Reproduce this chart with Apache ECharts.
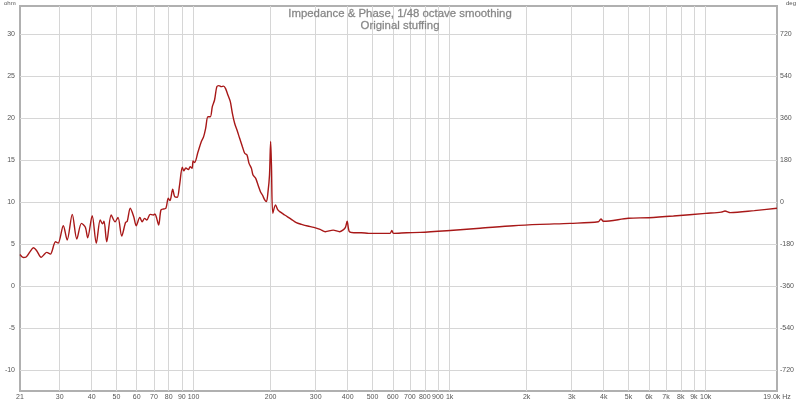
<!DOCTYPE html>
<html>
<head>
<meta charset="utf-8">
<script src="https://cdn.jsdelivr.net/npm/echarts@6/dist/echarts.min.js"></script>
<style>html,body{margin:0;padding:0;background:#fff}#c{width:800px;height:402px}</style>
</head>
<body>
<div id="c"></div>
<script>
// Frequency (Hz) and impedance (ohm)
const freqs = [21, 21.6, 22.2, 23.0, 23.7, 24.4, 25.4, 26.0, 26.7, 27.6, 28.9, 29.6, 31.0, 32.1, 33.6, 35.0, 36.5, 37.8, 38.6, 40.2, 41.7, 43.2, 44.1, 44.7, 45.8, 47.7,
  49.4, 50.7, 52.4, 54.3, 55.1, 56.6, 58.4, 59.7, 61.7, 63.0, 64.4, 65.7, 67.7, 69.7, 70.7, 71.8, 73.1, 74.6, 76.4, 78.0, 79.7, 80.9, 82.9, 84.4, 86.4, 88.2,
  90.4, 91.6, 93.3, 95.4, 97.0, 98.7, 99.6, 101.0, 104.0, 107.2, 109.5, 111.5, 113.8, 116.3, 118.4, 120.8, 123.3, 125.6, 128.3, 131.0, 133.4, 136.2, 139.2,
  141.8, 144.7, 147.8, 151.4, 155.2, 158.4, 161.7, 164.7, 168.3, 170.7, 174.9, 178.6, 182.5, 185.8, 189.7, 192.6, 195.4, 198.0, 200.0, 201.5, 204.0, 209.0,
  213.5, 217.0, 227, 241, 252, 264, 279, 295, 312, 327, 351, 372, 383, 392, 398, 406, 423, 452, 483, 516, 552, 585, 595, 604, 680, 768, 975, 1315, 1775,
  2256, 2955, 3812, 3900, 3990, 4994, 6000, 7487, 10000, 11500, 11900, 12500, 15500, 19000];
const ohms = [3.75, 3.4, 3.45, 4.1, 4.55, 4.2, 3.42, 3.7, 4.0, 3.8, 5.27, 5.1, 7.18, 5.48, 8.53, 5.6, 7.46, 7.0, 5.75, 8.37, 5.08, 7.86, 7.4, 7.7, 5.27, 8.45,
  7.65, 8.17, 5.95, 7.58, 7.7, 9.25, 8.25, 7.18, 8.17, 7.65, 8.05, 7.85, 8.53, 8.45, 8.57, 8.05, 7.26, 9.05, 9.17, 9.25, 10.44, 10.16, 11.51, 10.63, 10.56, 12.02,
  14.13, 13.7, 14.05, 13.85, 14.2, 14.0, 14.88, 14.7, 15.92, 17.18, 17.78, 18.77, 20.15, 20.15, 21.35, 22.14, 23.73, 23.85, 23.73, 23.8, 23.5, 22.74, 21.94,
  20.56, 19.37, 18.57, 17.58, 16.58, 15.8, 15.6, 14.6, 14.0, 13.21, 12.82, 12.02, 11.23, 10.83, 10.24, 10.04, 11.23, 13.2, 17.2, 14.4, 8.65, 9.64,
  9.05, 8.85, 8.45, 7.94, 7.54, 7.34, 7.14, 6.98, 6.74, 6.46, 6.65, 6.46, 6.65, 6.98, 7.7, 6.46, 6.34, 6.34, 6.27, 6.27, 6.27, 6.27, 6.6, 6.27, 6.34, 6.38, 6.58, 6.87, 7.18,
  7.34, 7.46, 7.65, 7.98, 7.7, 8.06, 8.13, 8.33, 8.65, 8.8, 8.93, 8.73, 8.97, 9.25];
const xTickValues = [30, 40, 50, 60, 70, 80, 90, 100, 200, 300, 400, 500, 600, 700, 800, 900, 1000, 2000, 3000, 4000, 5000, 6000, 7000, 8000, 9000, 10000];
const xLabelValues = [21, 30, 40, 50, 60, 70, 80, 90, 100, 200, 300, 400, 500, 600, 700, 800, 900, 1000, 2000, 3000, 4000, 5000, 6000, 7000, 8000, 9000, 10000, 19000];
const ohmTicks = [-10, -5, 0, 5, 10, 15, 20, 25, 30];
const degTicks = [-720, -540, -360, -180, 0, 180, 360, 540, 720];

const chart = echarts.init(document.getElementById('c'));
const font = 'Liberation Sans, Arial, sans-serif';
chart.setOption({
  animation: false,
  backgroundColor: '#fff',
  title: [
    { text: 'Impedance & Phase, 1/48 octave smoothing\nOriginal stuffing', left: 'center', top: 8, padding: 0,
      textStyle: { fontSize: 11.4, fontWeight: 'normal', color: '#858585', lineHeight: 12, fontFamily: font, align: 'center', textBorderColor: '#9a9a9a', textBorderWidth: 0.3 } },
    { text: 'ohm', left: 4, top: 0, padding: 0, textStyle: { fontSize: 6, fontWeight: 'normal', color: '#555', fontFamily: font } },
    { text: 'deg', right: 4, top: 0, padding: 0, textStyle: { fontSize: 6, fontWeight: 'normal', color: '#555', fontFamily: font } }
  ],
  grid: { left: 20, right: 23, top: 6, bottom: 11, show: true, borderColor: '#b0b0b0', borderWidth: 2, backgroundColor: '#fff' },
  xAxis: {
    type: 'log', logBase: 10, min: 21, max: 19000,
    axisLine: { show: false },
    axisTick: { show: false, customValues: xTickValues },
    axisLabel: {
      customValues: xLabelValues, fontSize: 7, color: '#555', margin: 3, fontFamily: font,
      formatter: v => {
        if (v >= 19000) return (v / 1000).toFixed(1) + 'k Hz';
        if (v >= 1000) return (v / 1000) + 'k';
        return String(v);
      }
    },
    splitLine: { show: true, lineStyle: { color: '#d6d6d6', width: 1 } }
  },
  yAxis: [
    {
      type: 'value', min: -12.5, max: 33.333,
      axisLine: { show: false },
      axisTick: { show: false, customValues: ohmTicks },
      axisLabel: { customValues: ohmTicks, fontSize: 7, color: '#555', margin: 5, fontFamily: font },
      splitLine: { show: true, lineStyle: { color: '#d6d6d6', width: 1 } }
    },
    {
      type: 'value', position: 'right', min: -810, max: 840,
      axisLine: { show: false },
      axisTick: { show: false, customValues: degTicks },
      axisLabel: { customValues: degTicks, fontSize: 7, color: '#555', margin: 3, fontFamily: font },
      splitLine: { show: false }
    }
  ],
  series: [{
    type: 'line', xAxisIndex: 0, yAxisIndex: 0,
    data: freqs.map((f, i) => [f, ohms[i]]),
    showSymbol: false, smooth: 0.3,
    lineStyle: { color: '#a81818', width: 1.4 }
  }]
});
</script>
</body>
</html>
